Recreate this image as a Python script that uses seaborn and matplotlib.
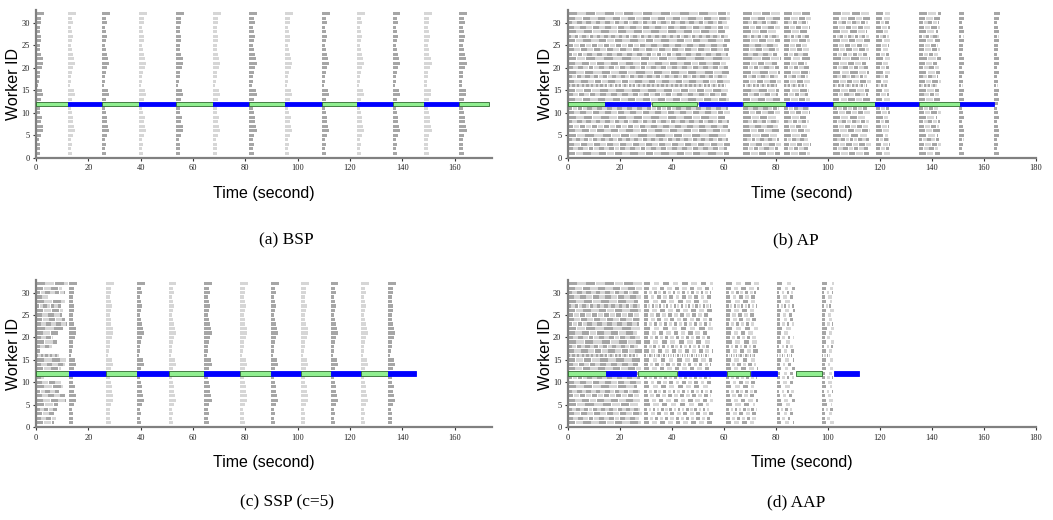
import matplotlib
matplotlib.use("Agg")
import matplotlib.pyplot as plt
import seaborn as sns

# ---------------- data ----------------
workers = list(range(1, 33))

# iteration stripe segments (seconds), alternating green / blue
bsp_seg_start = [0, 12.1, 25.1, 39.3, 53.5, 67.6, 81.6, 95.1, 109.2, 122.6, 136.3, 148.4, 161.8]
bsp_seg_end = [12.1, 25.1, 39.3, 53.5, 67.6, 81.6, 95.1, 109.2, 122.6, 136.3, 148.4, 161.8, 173.0]

ap_seg_start = [0, 14.5, 32.3, 50.3, 67.3, 84.0, 101.8, 118.3, 135.0, 150.9]
ap_seg_end = [14.5, 31.8, 49.8, 67.0, 84.0, 101.8, 118.3, 135.0, 150.9, 164.0]

ssp_seg_start = [0, 12.6, 26.8, 38.5, 50.7, 64.4, 78.0, 89.7, 101.3, 112.6, 124.1, 134.5]
ssp_seg_end = [12.6, 26.8, 38.5, 50.7, 64.4, 78.0, 89.7, 101.3, 112.6, 124.1, 134.5, 145.2]

aap_seg_start = [0, 14.7, 26.9, 42.3, 61.4, 70.5, 87.8, 102.4]
aap_seg_end = [14.7, 26.3, 42.0, 60.9, 70.1, 80.6, 97.8, 112.0]

# per-worker compute time right after a barrier (BSP / SSP), seconds
sync_width = [1.7, 1.4, 1.6, 1.3, 1.9, 2.8, 2.5, 2.1, 2.2, 1.7, 1.4, 1.6, 1.8, 2.7, 2.4, 0.9,
              1.2, 1.4, 1.6, 2.2, 2.8, 2.5, 2.0, 1.7, 1.4, 1.8, 2.1, 1.7, 1.4, 2.0, 1.8, 3.0]

# per-worker task duration for asynchronous runs, seconds
task_dur = [3.0, 2.0, 2.5, 1.6, 3.4, 2.8, 2.3, 1.8, 3.2, 2.4, 1.9, 2.5, 2.9, 2.1, 3.1, 0.9,
            2.6, 1.7, 3.3, 2.0, 2.8, 3.5, 1.9, 2.5, 2.3, 3.0, 1.4, 3.2, 2.4, 1.8, 2.9, 3.6]

# per-worker early finish before a busy block ends, seconds
ragged = [0.5, 1.2, 0.0, 0.8, 1.5, 0.3, 1.0, 0.6, 1.8, 0.2, 0.9, 1.4, 0.4, 1.1, 0.7, 1.6,
          0.1, 1.3, 0.5, 0.9, 1.7, 0.2, 1.0, 0.6, 1.2, 0.3, 0.8, 1.5, 0.4, 1.1, 0.0, 0.0]

# SSP: end of the first (staleness) busy block per worker
ssp_first_end = [7.0, 7.5, 7.0, 8.0, 8.5, 11.5, 11.0, 9.0, 10.5, 9.5, 3.0, 10.0, 9.5, 11.0, 11.5, 9.0,
                 1.5, 6.0, 8.0, 6.5, 8.5, 10.5, 12.0, 11.0, 10.0, 10.5, 9.5, 11.0, 4.5, 11.0, 10.0, 12.3]

# AP busy blocks
ap_block_start = [0, 67.5, 83.0, 102.0, 118.5, 135.0, 150.5, 164.0]
ap_block_end = [62.5, 82.0, 93.5, 116.5, 124.0, 143.5, 152.5, 166.0]
ap_block_fill = [0.95, 0.9, 0.85, 0.85, 0.8, 0.85, 0.6, 0.6]

# AAP busy blocks
aap_block_start = [0, 29.5, 61.0, 80.5, 97.8]
aap_block_end = [28.5, 56.0, 73.5, 87.5, 102.4]
aap_block_fill = [0.95, 0.6, 0.6, 0.5, 0.5]

y_ticks = [0, 5, 10, 15, 20, 25, 30]
x_ticks_a = [0, 20, 40, 60, 80, 100, 120, 140, 160]
x_ticks_b = [0, 20, 40, 60, 80, 100, 120, 140, 160, 180]
captions = ["(a) BSP", "(b) AP", "(c) SSP (c=5)", "(d) AAP"]

# ---------------- style ----------------
sns.set_theme(style="ticks")
plt.rcParams['font.family'] = ['Liberation Sans', 'DejaVu Sans']

DARK = '#a6a6a6'
LIGHT = '#d6d6d6'
GREEN = '#90ee90'
BLUE = '#0000ff'
BAR_H = 0.7

fig = plt.figure(figsize=(10.53, 5.20), dpi=100)
W, H = 1053.0, 520.0


def make_ax(l, r, t, b):
    return fig.add_axes([l / W, (H - b) / H, (r - l) / W, (b - t) / H])


ax_a = make_ax(36, 492, 10, 157.7)
ax_b = make_ax(567.7, 1036, 10, 157.7)
ax_c = make_ax(36, 492, 280, 427.3)
ax_d = make_ax(567.7, 1036, 280, 427.3)


def add_stripe(ax, starts, ends):
    widths = [e - s for s, e in zip(starts, ends)]
    cols = [GREEN if i % 2 == 0 else BLUE for i in range(len(starts))]
    edges = ['#2f6b2f' if i % 2 == 0 else BLUE for i in range(len(starts))]
    ax.barh([12] * len(starts), widths, left=starts, height=0.95, color=cols,
            edgecolor=edges, linewidth=0.6, zorder=3)


def sync_bars(ax, starts, dark_even):
    ys, ls, ws, cs = [], [], [], []
    for k, s in enumerate(starts):
        col = DARK if ((k % 2 == 0) == dark_even) else LIGHT
        for w, d in zip(workers, sync_width):
            ys.append(w); ls.append(s); ws.append(d); cs.append(col)
    ax.barh(ys, ws, left=ls, height=BAR_H, color=cs, linewidth=0, zorder=2)


def async_bars(ax, bstart, bend, bfill, per_worker_end=None):
    ys, ls, ws, cs = [], [], [], []
    for i, (w, d, r) in enumerate(zip(workers, task_dur, ragged)):
        for s, e, f in zip(bstart, bend, bfill):
            if per_worker_end is not None:
                e_w = per_worker_end[i]
            else:
                e_w = e - r * min(1.0, (e - s) / 10.0)
            t = s
            k = 0
            while t < e_w - 0.05:
                width = min(d * f, e_w - t)
                ys.append(w); ls.append(t); ws.append(width)
                cs.append(DARK if k % 2 == 0 else LIGHT)
                t += d
                k += 1
    ax.barh(ys, ws, left=ls, height=BAR_H, color=cs, linewidth=0, zorder=2)


def style(ax, xmax, xticks):
    ax.set_xlim(0, xmax)
    ax.set_ylim(0, 32.8)
    ax.set_xticks(xticks)
    ax.set_yticks(y_ticks)
    sns.despine(ax=ax)
    for side in ['left', 'bottom']:
        ax.spines[side].set_color('#808080')
        ax.spines[side].set_linewidth(1.6)
    ax.tick_params(axis='both', length=2.5, width=0.8, color='#333333', pad=2)
    for lab in ax.get_xticklabels() + ax.get_yticklabels():
        lab.set_fontfamily('Liberation Serif')
        lab.set_fontsize(6)
        lab.set_color('#222222')
    ax.set_xlabel('Time (second)', fontsize=11.5, labelpad=10, color='black')
    ax.set_ylabel('Worker ID', fontsize=11.5, labelpad=0, color='black')
    ax.set_facecolor('white')


# (a) BSP
sync_bars(ax_a, bsp_seg_start, dark_even=True)
add_stripe(ax_a, bsp_seg_start, bsp_seg_end)
style(ax_a, 174.3, x_ticks_a)

# (b) AP
async_bars(ax_b, ap_block_start, ap_block_end, ap_block_fill)
add_stripe(ax_b, ap_seg_start, ap_seg_end)
style(ax_b, 180, x_ticks_b)

# (c) SSP
async_bars(ax_c, [0], [12.5], [0.95], per_worker_end=ssp_first_end)
sync_bars(ax_c, ssp_seg_start[1:], dark_even=True)
add_stripe(ax_c, ssp_seg_start, ssp_seg_end)
style(ax_c, 174.3, x_ticks_a)

# (d) AAP
async_bars(ax_d, aap_block_start, aap_block_end, aap_block_fill)
add_stripe(ax_d, aap_seg_start, aap_seg_end)
style(ax_d, 180, x_ticks_b)

cap_pos = [(286.5, 240), (796, 240), (286.5, 502), (796, 502)]
for txt, (x, y) in zip(captions, cap_pos):
    fig.text(x / W, (H - y) / H, txt, ha='center', va='center', fontsize=12.5,
             family=['Liberation Serif', 'DejaVu Serif'], color='black')

fig.savefig('out.png', dpi=100, facecolor='white')
